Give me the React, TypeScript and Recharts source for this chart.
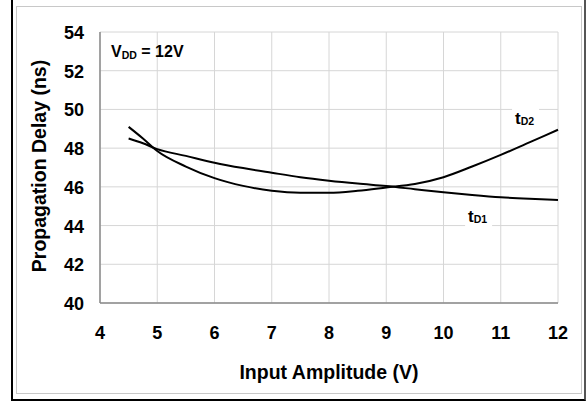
import { LineChart, Line, XAxis, YAxis, CartesianGrid, ReferenceDot, Label } from 'recharts'

const FONT = '"Liberation Sans", Arial, sans-serif'

const inputAmplitude = [4.5, 4.75, 5, 5.5, 6, 6.5, 7, 7.5, 8, 8.5, 9, 9.5, 10, 10.5, 11, 11.5, 12]
const tD1 = [48.5, 48.25, 47.95, 47.6, 47.25, 46.97, 46.73, 46.5, 46.32, 46.17, 46.04, 45.88, 45.72, 45.58, 45.46, 45.38, 45.32]
const tD2 = [49.1, 48.5, 47.85, 47.05, 46.45, 46.05, 45.8, 45.7, 45.7, 45.8, 45.97, 46.15, 46.5, 47.05, 47.65, 48.3, 48.95]

const xTicks = [4, 5, 6, 7, 8, 9, 10, 11, 12]
const yTicks = [40, 42, 44, 46, 48, 50, 52, 54]

const data = inputAmplitude.map((v, i) => ({ v, tD1: tD1[i], tD2: tD2[i] }))

function XTick(props: any) {
  const { x, y, payload } = props
  return (
    <text x={x} y={y + 36} textAnchor="middle" fontFamily={FONT} fontWeight="bold" fontSize={18} fill="#000">
      {payload.value}
    </text>
  )
}

function YTick(props: any) {
  const { x, y, payload } = props
  return (
    <text x={x - 16} y={y + 7} textAnchor="end" fontFamily={FONT} fontWeight="bold" fontSize={18} fill="#000">
      {payload.value}
    </text>
  )
}

// curve name with subscript, white box behind it so the grid is broken
function curveLabel(sub: string) {
  return (p: any) => (
    <g>
      <rect x={p.cx - 3} y={p.cy - 16} width={27} height={22} fill="#fff" />
      <text x={p.cx} y={p.cy} fontFamily={FONT} fontWeight="bold" fontSize={17} fill="#000">
        t
        <tspan fontSize={10.5} dy={1}>{sub}</tspan>
      </text>
    </g>
  )
}

function vddLabel(p: any) {
  return (
    <text x={p.cx + 11} y={p.cy + 25} fontFamily={FONT} fontWeight="bold" fontSize={16} fill="#000">
      V
      <tspan fontSize={10.5} dy={2}>DD</tspan>
      <tspan dy={-2}> = 12V</tspan>
    </text>
  )
}

export default function App() {
  return (
    <div style={{ position: 'absolute', left: 0, top: 0, width: 586, height: 404, background: '#fff' }}>
      <div
        style={{
          position: 'absolute',
          left: 11,
          top: 0,
          width: 571,
          height: 399,
          borderLeft: '2px solid #000',
          borderBottom: '2px solid #000',
          borderRight: '2px solid #555',
        }}
      />
      <div
        style={{
          position: 'absolute',
          left: 16,
          top: 6,
          width: 564,
          height: 386,
          border: '1px solid #c8c8c8',
        }}
      />
      <div style={{ position: 'absolute', left: 0, top: 0 }}>
        <LineChart width={586} height={404} data={data} margin={{ top: 32, right: 28, bottom: 71, left: 30 }}>
          <CartesianGrid stroke="#d6d6d6" strokeWidth={1} horizontalValues={yTicks} verticalValues={xTicks} />
          <XAxis
            dataKey="v"
            type="number"
            domain={[4, 12]}
            ticks={xTicks}
            interval={0}
            height={30}
            tickLine={false}
            tickSize={0}
            tickMargin={0}
            axisLine={{ stroke: '#8a8a8a', strokeWidth: 1.5 }}
            tick={<XTick />}
          >
            <Label
              content={() => (
                <text x={329} y={379} textAnchor="middle" fontFamily={FONT} fontWeight="bold" fontSize={19.5} fill="#000">
                  Input Amplitude (V)
                </text>
              )}
            />
          </XAxis>
          <YAxis
            type="number"
            domain={[40, 54]}
            ticks={yTicks}
            interval={0}
            width={70}
            tickLine={false}
            tickSize={0}
            tickMargin={0}
            axisLine={{ stroke: '#8a8a8a', strokeWidth: 1.5 }}
            tick={<YTick />}
          >
            <Label
              content={() => (
                <text
                  x={46}
                  y={166}
                  transform="rotate(-90 46 166)"
                  textAnchor="middle"
                  fontFamily={FONT}
                  fontWeight="bold"
                  fontSize={19.5}
                  fill="#000"
                >
                  Propagation Delay (ns)
                </text>
              )}
            />
          </YAxis>
          <Line type="monotone" dataKey="tD1" stroke="#000" strokeWidth={2} dot={false} isAnimationActive={false} />
          <Line type="monotone" dataKey="tD2" stroke="#000" strokeWidth={2} dot={false} isAnimationActive={false} />
          <ReferenceDot x={11.25} y={49.25} shape={curveLabel('D2')} />
          <ReferenceDot x={10.43} y={44.18} shape={curveLabel('D1')} />
          <ReferenceDot x={4} y={54} shape={vddLabel} />
        </LineChart>
      </div>
    </div>
  )
}
